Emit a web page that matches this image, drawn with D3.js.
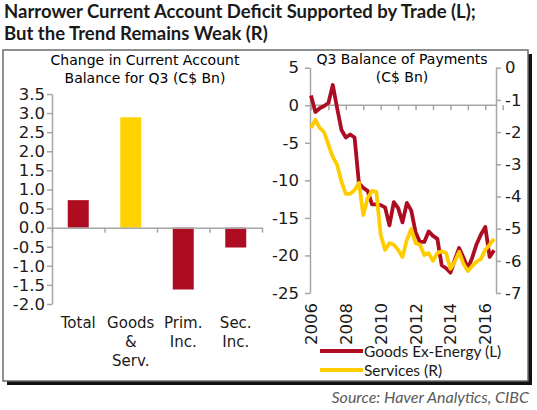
<!DOCTYPE html>
<html>
<head>
<meta charset="utf-8">
<script src="https://cdn.jsdelivr.net/npm/d3@7"></script>
<style>
  body { margin: 0; background: #fff; }
  svg { display: block; }
</style>
</head>
<body>
<script>
// left panel: change in current account balance, Q3 (C$ Bn)
var categories = [["Total"], ["Goods", "&", "Serv."], ["Prim.", "Inc."], ["Sec.", "Inc."]];
var changes = [0.72, 2.89, -1.62, -0.52];
var barColors = ["#ae0c20", "#ffd200", "#ae0c20", "#ae0c20"];
var barTicks = [-2, -1.5, -1, -0.5, 0, 0.5, 1, 1.5, 2, 2.5, 3, 3.5];

// right panel: quarterly, 2006Q1 .. 2016Q3
var startYear = 2006;
var goodsExEnergy = [1.3, -0.9, -0.4, -0.1, 0.3, 2.7, -0.4, -3.3, -4.3, -3.9, -4.3,
  -10.4, -11.0, -11.4, -13.2, -13.2, -13.3, -13.6, -16.0, -12.9, -13.7, -15.6,
  -13.0, -14.0, -16.9, -18.2, -18.2, -16.8, -17.4, -17.8, -21.3, -21.7, -22.3,
  -20.6, -19.0, -20.3, -21.7, -20.3, -18.5, -17.2, -16.2, -20.2, -19.3];
var services = [-1.87, -1.62, -1.87, -2.0, -2.4, -2.77, -3.02, -3.55, -3.92, -3.92, -3.8,
  -3.58, -4.58, -4.05, -3.83, -3.86, -5.2, -5.66, -5.45, -5.5, -5.66, -5.88,
  -5.35, -5.01, -5.45, -5.5, -5.82, -5.76, -6.0, -5.76, -5.7, -5.76, -6.25,
  -6.03, -5.72, -6.1, -6.32, -6.16, -6.03, -5.94, -5.66, -5.5, -5.32];
var leftTicks = [-25, -20, -15, -10, -5, 0, 5];
var rightTicks = [-7, -6, -5, -4, -3, -2, -1, 0];
var yearLabels = [2006, 2008, 2010, 2012, 2014, 2016];
var yearTicks = d3.range(2006, 2018);

var RED = "#ae0c20", YELLOW = "#ffcc00", AXIS = "#a6a6a6";
var FONT = "DejaVu Sans";

var svg = d3.select("body").append("svg")
  .attr("width", 537).attr("height", 410);

// title
svg.append("text").attr("x", 4).attr("y", 18)
  .attr("font-family", "Lato").attr("font-weight", "bold").attr("font-size", 18.5)
  .attr("fill", "#1a1a1a")
  .text("Narrower Current Account Deficit Supported by Trade (L);");
svg.append("text").attr("x", 4).attr("y", 40)
  .attr("font-family", "Lato").attr("font-weight", "bold").attr("font-size", 18.5)
  .attr("fill", "#1a1a1a")
  .text("But the Trend Remains Weak (R)");

// frame with shadow
svg.append("rect").attr("x", 7).attr("y", 54).attr("width", 525).attr("height", 331)
  .attr("fill", "#111");
svg.append("rect").attr("x", 3).attr("y", 50).attr("width", 525).attr("height", 331)
  .attr("fill", "#fff").attr("stroke", "#6b6b6b").attr("stroke-width", 1.5);

// source
svg.append("text").attr("x", 529).attr("y", 403).attr("text-anchor", "end")
  .attr("font-family", "Lato").attr("font-style", "italic").attr("font-size", 16)
  .attr("fill", "#5a5a5a")
  .text("Source: Haver Analytics, CIBC");

function styleAxis(g) {
  g.selectAll("path, line").attr("stroke", AXIS).attr("stroke-width", 1.5);
  g.selectAll("text").attr("font-family", FONT).attr("font-size", 16.5).attr("fill", "#1a1a1a");
}

// ---- left panel ----
var left = svg.append("g");
left.append("text").attr("x", 145).attr("y", 65).attr("text-anchor", "middle")
  .attr("font-family", FONT).attr("font-size", 14).text("Change in Current Account");
left.append("text").attr("x", 145).attr("y", 83).attr("text-anchor", "middle")
  .attr("font-family", FONT).attr("font-size", 14).text("Balance for Q3 (C$ Bn)");

var yb = d3.scaleLinear().domain([-2, 3.5]).range([304, 94]);
var xb = d3.scaleBand().domain(d3.range(categories.length)).range([52, 262])
  .paddingInner(0.6).paddingOuter(0.3);
var xSep = d3.scaleLinear().domain([0, categories.length]).range([52, 262]);

left.selectAll("rect.bar").data(changes).enter().append("rect")
  .attr("class", "bar")
  .attr("x", (d, i) => xb(i))
  .attr("y", d => yb(Math.max(0, d)))
  .attr("width", xb.bandwidth())
  .attr("height", d => Math.abs(yb(d) - yb(0)))
  .attr("fill", (d, i) => barColors[i]);

left.append("g").attr("transform", "translate(52,0)")
  .call(d3.axisLeft(yb).tickValues(barTicks).tickSize(5).tickPadding(2).tickSizeOuter(0)
    .tickFormat(d => d.toFixed(1)))
  .call(styleAxis);

left.append("g").attr("transform", "translate(0," + yb(0) + ")")
  .call(d3.axisBottom(xSep).ticks(categories.length).tickSize(5).tickSizeOuter(0)
    .tickFormat(""))
  .call(styleAxis);

var cat = left.selectAll("text.cat").data(categories).enter().append("text")
  .attr("class", "cat")
  .attr("text-anchor", "middle")
  .attr("font-family", FONT).attr("font-size", 15).attr("fill", "#1a1a1a");
cat.selectAll("tspan").data((d, i) => d.map(s => ({s: s, i: i}))).enter().append("tspan")
  .attr("x", d => xb(d.i) + xb.bandwidth() / 2)
  .attr("y", (d, j) => 328 + j * 19)
  .text(d => d.s);

// ---- right panel ----
var right = svg.append("g");
right.append("text").attr("x", 402).attr("y", 64).attr("text-anchor", "middle")
  .attr("font-family", FONT).attr("font-size", 14).text("Q3 Balance of Payments");
right.append("text").attr("x", 402).attr("y", 82).attr("text-anchor", "middle")
  .attr("font-family", FONT).attr("font-size", 14).text("(C$ Bn)");

var x = d3.scaleLinear().domain([2006, 2016.5]).range([311, 494]);
var yL = d3.scaleLinear().domain([-25, 5]).range([293, 67.7]);
var yR = d3.scaleLinear().domain([-7, 0]).range([293, 67.7]);
var xAt = i => x(startYear + i / 4);

right.append("g").attr("transform", "translate(310,0)")
  .call(d3.axisLeft(yL).tickValues(leftTicks).tickSize(5).tickPadding(6).tickSizeOuter(0)
    .tickFormat(d => String(d)))
  .call(styleAxis);

right.append("g").attr("transform", "translate(496,0)")
  .call(d3.axisRight(yR).tickValues(rightTicks).tickSize(5).tickPadding(4).tickSizeOuter(0)
    .tickFormat(d => String(d)))
  .call(styleAxis);

// zero line with yearly ticks
var xAxis = right.append("g").attr("transform", "translate(0," + yL(0) + ")")
  .call(d3.axisBottom(x).tickValues(yearTicks).tickSize(5).tickSizeOuter(0).tickFormat(""))
  .call(styleAxis);
xAxis.select(".domain").attr("d", "M310,0H496");

right.selectAll("text.year").data(yearLabels).enter().append("text")
  .attr("class", "year")
  .attr("transform", d => "translate(" + (x(d) + 6) + ",303) rotate(-90)")
  .attr("text-anchor", "end")
  .attr("font-family", FONT).attr("font-size", 16.5).attr("fill", "#1a1a1a")
  .text(d => d);

var lineL = d3.line().x((d, i) => xAt(i)).y(d => yL(d));
var lineR = d3.line().x((d, i) => xAt(i)).y(d => yR(d));

right.append("path").datum(goodsExEnergy).attr("d", lineL)
  .attr("fill", "none").attr("stroke", RED).attr("stroke-width", 3.8)
  .attr("stroke-linejoin", "round");
right.append("path").datum(services).attr("d", lineR)
  .attr("fill", "none").attr("stroke", YELLOW).attr("stroke-width", 3.8)
  .attr("stroke-linejoin", "round");

// legend
var legend = [
  {label: "Goods Ex-Energy (L)", color: RED, y: 351},
  {label: "Services (R)", color: YELLOW, y: 370}
];
var lg = right.selectAll("g.legend").data(legend).enter().append("g").attr("class", "legend");
lg.append("line").attr("x1", 320).attr("x2", 363)
  .attr("y1", d => d.y).attr("y2", d => d.y)
  .attr("stroke", d => d.color).attr("stroke-width", 4);
lg.append("text").attr("x", 364).attr("y", d => d.y + 5.5)
  .attr("font-family", "Lato").attr("font-size", 15.5).attr("fill", "#1a1a1a")
  .text(d => d.label);
</script>
</body>
</html>
